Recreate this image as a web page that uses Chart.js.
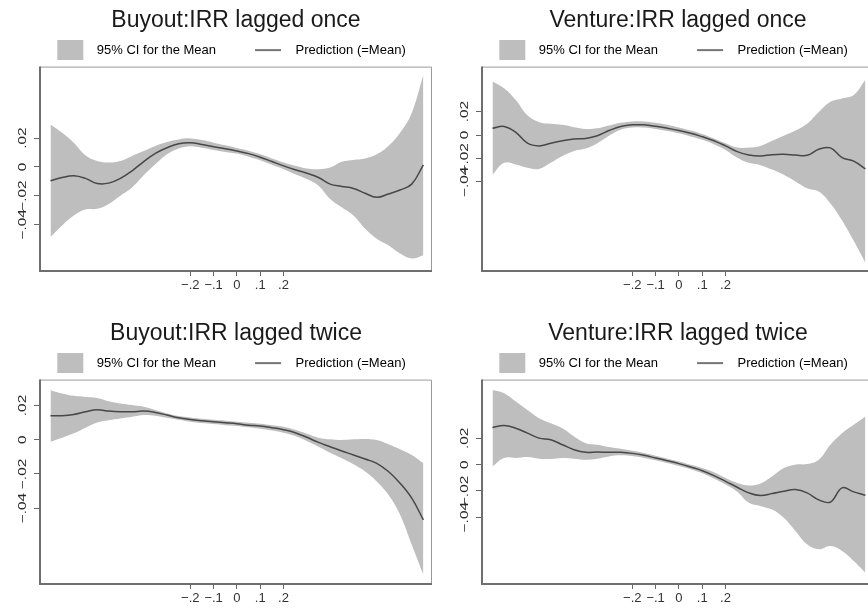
<!DOCTYPE html>
<html lang="en">
<head>
<meta charset="UTF-8">
<title>IRR lagged once / twice</title>
<script src="https://cdn.jsdelivr.net/npm/chart.js@4.4.0/dist/chart.umd.min.js"></script>
<style>
  html, body { margin: 0; padding: 0; overflow: hidden; background: #fff; }
  body { position: relative; width: 868px; height: 610px; }
  canvas { position: absolute; }
</style>
</head>
<body>
<canvas id="c1" width="434" height="297" style="left:0;top:0"></canvas>
<canvas id="c2" width="434" height="297" style="left:442px;top:0"></canvas>
<canvas id="c3" width="434" height="297" style="left:0;top:313px"></canvas>
<canvas id="c4" width="434" height="297" style="left:442px;top:313px"></canvas>
<script>
// x grid of the smoothed curves
const xs = [-0.80,-0.75,-0.70,-0.65,-0.60,-0.55,-0.50,-0.45,-0.40,-0.35,-0.30,-0.25,-0.20,-0.15,-0.10,-0.05,0,
            0.05,0.10,0.15,0.20,0.25,0.30,0.35,0.40,0.45,0.50,0.55,0.60,0.65,0.70,0.75,0.80];

const xTickVals = [-0.2, -0.1, 0, 0.1, 0.2];
const xTickLabels = ['−.2', '−.1', '0', '.1', '.2'];
const yTickVals = [-0.04, -0.02, 0, 0.02];
const yTickLabels = ['−.04', '−.02', '0', '.02'];

// Buyout: IRR lagged once
const buyOnceMean  = [-0.0097,-0.0074,-0.0062,-0.0080,-0.0115,-0.0113,-0.0080,-0.0028,0.0037,0.0094,0.0133,0.0161,0.0168,0.0156,0.0140,0.0126,0.0110,
                      0.0092,0.0067,0.0037,0.0007,-0.0020,-0.0044,-0.0074,-0.0120,-0.0136,-0.0150,-0.0184,-0.0212,-0.0189,-0.0161,-0.0120,0.0014];
const buyOnceUpper = [0.0294,0.0237,0.0168,0.0080,0.0041,0.0030,0.0041,0.0076,0.0110,0.0145,0.0173,0.0191,0.0198,0.0186,0.0168,0.0150,0.0131,
                      0.0112,0.0087,0.0058,0.0030,0.0007,-0.0012,-0.0016,-0.0005,0.0035,0.0048,0.0058,0.0087,0.0145,0.0237,0.0375,0.0640];
const buyOnceLower = [-0.0488,-0.0407,-0.0338,-0.0297,-0.0292,-0.0258,-0.0200,-0.0143,-0.0058,0.0018,0.0087,0.0127,0.0143,0.0133,0.0117,0.0104,0.0092,
                      0.0071,0.0046,0.0014,-0.0016,-0.0051,-0.0085,-0.0131,-0.0223,-0.0281,-0.0338,-0.0430,-0.0499,-0.0545,-0.0603,-0.0637,-0.0614];

// Venture: IRR lagged once
const ventOnceMean  = [0.0058,0.0073,0.0023,-0.0070,-0.0093,-0.0070,-0.0049,-0.0035,-0.0029,-0.0006,0.0038,0.0073,0.0087,0.0087,0.0075,0.0058,0.0038,
                       0.0015,-0.0015,-0.0049,-0.0093,-0.0142,-0.0171,-0.0180,-0.0168,-0.0165,-0.0171,-0.0174,-0.0122,-0.0110,-0.0194,-0.0223,-0.0290];
const ventOnceUpper = [0.0458,0.0400,0.0299,0.0168,0.0110,0.0096,0.0087,0.0067,0.0052,0.0058,0.0081,0.0104,0.0116,0.0116,0.0104,0.0087,0.0064,
                       0.0038,0.0009,-0.0029,-0.0070,-0.0107,-0.0107,-0.0093,-0.0049,-0.0006,0.0038,0.0096,0.0197,0.0284,0.0313,0.0342,0.0473];
const ventOnceLower = [-0.0340,-0.0238,-0.0252,-0.0281,-0.0290,-0.0238,-0.0180,-0.0136,-0.0116,-0.0070,-0.0006,0.0046,0.0064,0.0064,0.0052,0.0035,0.0015,
                       -0.0012,-0.0041,-0.0078,-0.0128,-0.0194,-0.0238,-0.0258,-0.0296,-0.0340,-0.0397,-0.0455,-0.0484,-0.0586,-0.0731,-0.0905,-0.1093];

// Buyout: IRR lagged twice
const buyTwiceMean  = [0.0140,0.0140,0.0147,0.0163,0.0175,0.0167,0.0163,0.0163,0.0167,0.0159,0.0144,0.0128,0.0118,0.0111,0.0105,0.0099,0.0093,
                       0.0085,0.0080,0.0070,0.0058,0.0041,0.0014,-0.0016,-0.0041,-0.0066,-0.0089,-0.0113,-0.0138,-0.0186,-0.0254,-0.0341,-0.0468];
const buyTwiceUpper = [0.0289,0.0270,0.0256,0.0250,0.0244,0.0225,0.0211,0.0202,0.0192,0.0173,0.0153,0.0138,0.0130,0.0122,0.0116,0.0111,0.0105,
                       0.0099,0.0093,0.0085,0.0076,0.0058,0.0035,0.0012,0.0002,-0.0002,0.0002,0.0004,-0.0002,-0.0027,-0.0056,-0.0089,-0.0138];
const buyTwiceLower = [-0.0012,0.0012,0.0037,0.0070,0.0101,0.0114,0.0124,0.0134,0.0144,0.0140,0.0128,0.0116,0.0105,0.0097,0.0091,0.0085,0.0080,
                       0.0072,0.0064,0.0054,0.0041,0.0021,-0.0008,-0.0041,-0.0076,-0.0109,-0.0144,-0.0186,-0.0244,-0.0322,-0.0438,-0.0613,-0.0788];

// Venture: IRR lagged twice
const ventTwiceMean  = [0.0283,0.0299,0.0278,0.0240,0.0202,0.0190,0.0152,0.0114,0.0094,0.0096,0.0094,0.0094,0.0086,0.0071,0.0051,0.0030,0.0008,
                        -0.0018,-0.0046,-0.0083,-0.0127,-0.0172,-0.0215,-0.0235,-0.0220,-0.0202,-0.0190,-0.0215,-0.0268,-0.0285,-0.0177,-0.0207,-0.0233];
const ventTwiceUpper = [0.0569,0.0544,0.0481,0.0417,0.0354,0.0316,0.0278,0.0215,0.0164,0.0152,0.0134,0.0121,0.0106,0.0089,0.0068,0.0046,0.0025,
                        0.0000,-0.0025,-0.0058,-0.0101,-0.0139,-0.0159,-0.0144,-0.0089,-0.0025,0.0000,0.0005,0.0038,0.0152,0.0240,0.0304,0.0367];
const ventTwiceLower = [-0.0013,0.0051,0.0051,0.0058,0.0046,0.0043,0.0051,0.0046,0.0038,0.0046,0.0063,0.0071,0.0066,0.0051,0.0033,0.0013,-0.0010,
                        -0.0035,-0.0066,-0.0106,-0.0152,-0.0207,-0.0291,-0.0316,-0.0342,-0.0405,-0.0506,-0.0607,-0.0645,-0.0620,-0.0658,-0.0734,-0.0822];

const bandColor = '#bebebe';
const lineColor = '#474747';
const fontFamily = '"Liberation Sans", Arial, Helvetica, sans-serif';
Chart.defaults.font.family = fontFamily;

// legend swatches (band box / line), drawn as point style images
function swatch(kind) {
  const c = document.createElement('canvas');
  c.width = 64; c.height = 20;
  const g = c.getContext('2d');
  if (kind === 'band') {
    g.fillStyle = bandColor;
    g.fillRect(31, 0, 26, 20);
  } else {
    g.strokeStyle = lineColor;
    g.lineWidth = 1.5;
    g.beginPath(); g.moveTo(30, 10); g.lineTo(56, 10); g.stroke();
  }
  return c;
}
const bandSwatch = swatch('band');
const lineSwatch = swatch('line');

// stata-like frame round the plot region
const frame = {
  id: 'frame',
  afterDatasetsDraw(chart) {
    const {ctx, chartArea: a} = chart;
    ctx.save();
    ctx.lineWidth = 1;
    ctx.strokeStyle = '#9a9a9a';
    ctx.beginPath();
    ctx.moveTo(a.left, a.top + 0.5); ctx.lineTo(a.right - 0.5, a.top + 0.5); ctx.lineTo(a.right - 0.5, a.bottom);
    ctx.stroke();
    ctx.lineWidth = 2;
    ctx.strokeStyle = '#6e6e6e';
    ctx.beginPath();
    ctx.moveTo(a.left, a.top); ctx.lineTo(a.left, a.bottom); ctx.lineTo(a.right, a.bottom);
    ctx.stroke();
    ctx.restore();
  }
};

// y tick labels are rotated in the original
const rotatedYLabels = {
  id: 'rotatedYLabels',
  afterDraw(chart) {
    const {ctx, chartArea} = chart;
    const y = chart.scales.y;
    ctx.save();
    ctx.fillStyle = '#2a2a2a';
    ctx.font = '11px ' + fontFamily;
    ctx.textAlign = 'center';
    ctx.textBaseline = 'middle';
    yTickVals.forEach((v, i) => {
      ctx.save();
      ctx.translate(chartArea.left - 17, y.getPixelForValue(v));
      ctx.rotate(-Math.PI / 2);
      ctx.scale(1.4, 1);
      ctx.fillText(yTickLabels[i], 0, 0);
      ctx.restore();
    });
    ctx.restore();
  }
};

function pts(arr) {
  return xs.map((x, i) => ({x: x, y: arr[i]}));
}

function panel(id, title, mean, upper, lower, yMin, yMax) {
  new Chart(document.getElementById(id), {
    type: 'line',
    data: {
      datasets: [
        { data: pts(upper), order: 2, fill: '+1', backgroundColor: bandColor, borderWidth: 0, pointRadius: 0, tension: 0.4 },
        { data: pts(lower), order: 3, fill: false, borderWidth: 0, pointRadius: 0, tension: 0.4 },
        { data: pts(mean), order: 0, fill: false, borderColor: lineColor, borderWidth: 1.5, pointRadius: 0, tension: 0.4 }
      ]
    },
    options: {
      responsive: false,
      animation: false,
      devicePixelRatio: 1,
      layout: { padding: { left: 0, right: 2, top: 0, bottom: 0 } },
      plugins: {
        title: {
          display: true, text: title, fullSize: false,
          color: '#1a1a1a', font: { size: 23, weight: 'normal' },
          padding: { top: 7, bottom: 0 }
        },
        legend: {
          position: 'top',
          labels: {
            usePointStyle: true, pointStyleWidth: 64, padding: 9,
            color: '#333', font: { size: 13 },
            generateLabels: () => [
              { text: '95% CI for the Mean', pointStyle: bandSwatch, lineWidth: 0, hidden: false, datasetIndex: 0 },
              { text: 'Prediction (=Mean)', pointStyle: lineSwatch, lineWidth: 0, hidden: false, datasetIndex: 2 }
            ]
          }
        },
        tooltip: { enabled: false }
      },
      scales: {
        x: {
          type: 'linear', min: -0.845, max: 0.837,
          afterBuildTicks: s => { s.ticks = xTickVals.map(v => ({value: v})); },
          afterFit: s => { s.height = 26; },
          ticks: { autoSkip: false, maxRotation: 0, padding: 2, color: '#333', font: { size: 13 },
                   callback: (v, i) => xTickLabels[i] },
          grid: { drawOnChartArea: false, drawTicks: true, tickLength: 5, color: '#666' },
          border: { display: false }
        },
        y: {
          min: yMin, max: yMax,
          afterBuildTicks: s => { s.ticks = yTickVals.map(v => ({value: v})); },
          afterFit: s => { s.width = 40; },
          ticks: { display: false },
          grid: { drawOnChartArea: false, drawTicks: true, tickLength: 6, color: '#666' },
          border: { display: false }
        }
      }
    },
    plugins: [frame, rotatedYLabels]
  });
}

panel('c1', 'Buyout:IRR lagged once',  buyOnceMean,  buyOnceUpper,  buyOnceLower,  -0.0724, 0.0697);
panel('c2', 'Venture:IRR lagged once', ventOnceMean, ventOnceUpper, ventOnceLower, -0.1163, 0.0585);
panel('c3', 'Buyout:IRR lagged twice', buyTwiceMean, buyTwiceUpper, buyTwiceLower, -0.0843, 0.0351);
panel('c4', 'Venture:IRR lagged twice', ventTwiceMean, ventTwiceUpper, ventTwiceLower, -0.0909, 0.0648);
</script>
</body>
</html>
